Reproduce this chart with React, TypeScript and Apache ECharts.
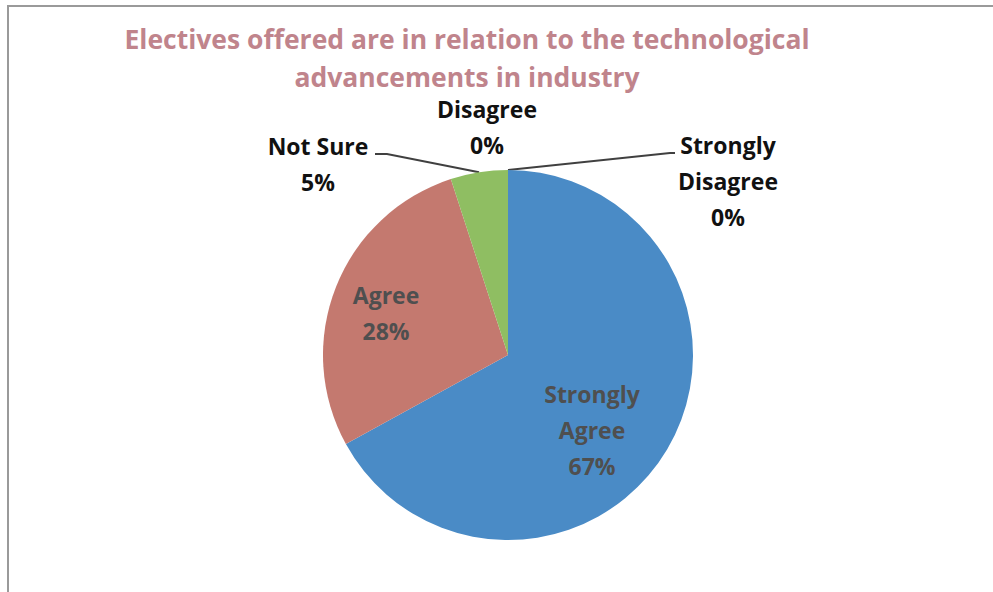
import React, { useEffect, useRef } from "react";
import * as echarts from "echarts";

const TITLE_LINES = [
  "Electives offered are in relation to the technological",
  "advancements in industry",
];
const CATEGORIES = ["Strongly Agree", "Agree", "Not Sure", "Disagree", "Strongly Disagree"];
const VALUES = [67, 28, 5, 0, 0];
const COLORS = ["#4a8bc6", "#c4796f", "#8fbe62", "#9bbb59", "#8064a2"];
const INSIDE = [true, true, false, false, false];
const SHOW_LINE = [false, false, true, false, true];
// label centres (layout only)
const LABEL_XY: number[][] = [
  [592, 430],
  [386, 313],
  [318, 164],
  [487, 127],
  [728, 181],
];
// leader-line end points near the labels (layout only)
const LINE_END: number[][][] = [
  [],
  [],
  [
    [387, 154],
    [375, 154],
  ],
  [],
  [
    [670, 153],
    [675, 153],
  ],
];

const FONT = "'Open Sans', Lato, sans-serif";

export default function App() {
  const ref = useRef<HTMLDivElement>(null);
  useEffect(() => {
    if (!ref.current) return;
    const chart = echarts.init(ref.current, undefined, { renderer: "svg" });
    const data = CATEGORIES.map((name, i) => ({
      name,
      value: VALUES[i],
      itemStyle: { color: COLORS[i] },
      label: INSIDE[i]
        ? { position: "inside", color: "#4f4f4f" }
        : { position: "outside", color: "#111111" },
      labelLine: { show: SHOW_LINE[i] },
    }));
    chart.setOption({
      animation: false,
      backgroundColor: "#ffffff",
      title: {
        text: TITLE_LINES.join("\n"),
        left: 467,
        top: 20,
        textAlign: "center",
        padding: 0,
        textStyle: {
          fontFamily: FONT,
          fontWeight: "bold",
          fontSize: 26.5,
          lineHeight: 38,
          color: "#c0848c",
        },
      },
      graphic: [
        {
          type: "polyline",
          shape: {
            points: [
              [8, 592],
              [8, 6],
              [993, 6],
            ],
          },
          style: { stroke: "#9a9a9a", lineWidth: 2, fill: null },
          silent: true,
        },
      ],
      series: [
        {
          type: "pie",
          center: [508, 355],
          radius: 185,
          startAngle: 90,
          clockwise: true,
          avoidLabelOverlap: false,
          minShowLabelAngle: -1,
          itemStyle: { borderWidth: 0 },
          label: {
            show: true,
            fontFamily: FONT,
            fontWeight: "bold",
            fontSize: 23,
            lineHeight: 36,
            align: "center",
            formatter: (p: any) =>
              p.name.replace("Strongly ", "Strongly\n") + "\n" + Math.round(p.percent) + "%",
          },
          labelLine: {
            show: true,
            lineStyle: { color: "#404040", width: 2 },
          },
          labelLayout: (p: any) => {
            const i = p.dataIndex;
            const xy = LABEL_XY[i];
            const res: any = { x: xy[0], y: xy[1], align: "center", verticalAlign: "middle" };
            if (SHOW_LINE[i] && p.labelLinePoints && p.labelLinePoints[0]) {
              res.labelLinePoints = [p.labelLinePoints[0], LINE_END[i][0], LINE_END[i][1]];
            }
            return res;
          },
          data,
        },
      ],
    });
    return () => chart.dispose();
  }, []);
  return (
    <div
      ref={ref}
      style={{ position: "fixed", left: 0, top: 0, width: 993, height: 592 }}
    />
  );
}
